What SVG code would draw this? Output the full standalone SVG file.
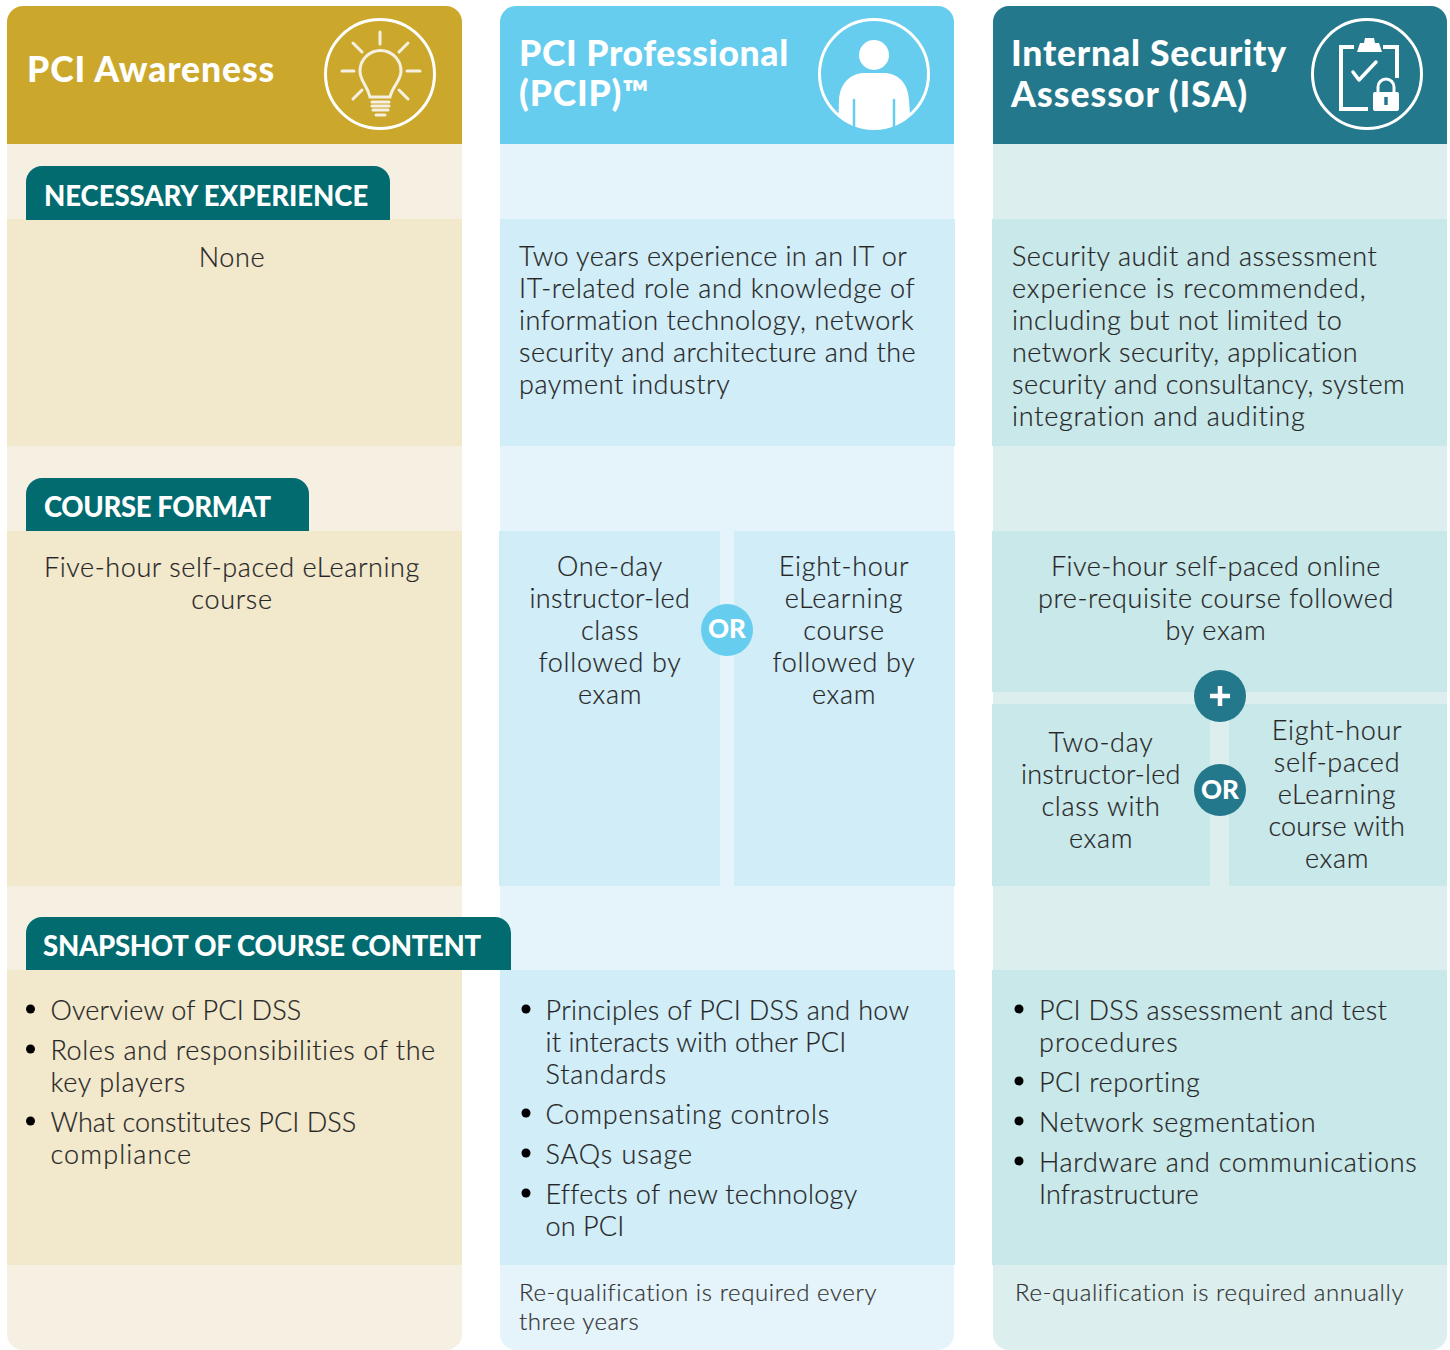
<svg xmlns="http://www.w3.org/2000/svg" width="1450" height="1350" viewBox="0 0 1450 1350">
<style>
text{font-family:"Lato","Noto Sans",sans-serif;fill:#262626;stroke:#262626;stroke-width:.2px;font-size:27px;font-weight:300;letter-spacing:.3px}
.m{text-anchor:middle;letter-spacing:.7px}
.h{font-weight:900;font-size:35.500px;fill:#fff;stroke:none;letter-spacing:.8px}
.t{font-weight:900;font-size:27.500px;fill:#fff;stroke:none;letter-spacing:-.2px}
.f{font-size:24px;fill:#333;stroke:#333;letter-spacing:.5px}
.o{font-weight:900;font-size:26px;fill:#fff;stroke:none;text-anchor:middle;letter-spacing:0}
.tab{fill:#016b70}
.ic{fill:none;stroke:#fff;stroke-width:3}
.ray{fill:none;stroke:#f6f0e2;stroke-width:3;stroke-linecap:round}
.w{fill:#fff}
</style>
<defs><clipPath id="cp"><circle cx="874" cy="74" r="54"/></clipPath></defs>
<g id="column-awareness">
<path d="M7 144V22a16 16 0 0 1 16-16H446a16 16 0 0 1 16 16V144Z" fill="#cba82c"/>
<path d="M7 144H462V1334a16 16 0 0 1-16 16H23a16 16 0 0 1-16-16Z" fill="#f6f0e2"/>
<rect x="7" y="219" width="455" height="227" fill="#f2e8cc"/>
<rect x="7" y="531" width="455" height="355" fill="#f2e8cc"/>
<rect x="7" y="970" width="455" height="295" fill="#f2e8cc"/>
<text class="h" x="27" y="82" textLength="248">PCI Awareness</text>
<g id="icon-bulb">
<circle class="ic" cx="380" cy="74" r="54.500"/>
<path class="ray" d="M380 32V44M342 71H354M407 71H420M353 43L362 52M408 43L399 52M353 99L362 90M408 99L399 90"/>
<path class="ray" d="M370 97C367 85 360 81 360 71A20.500 20.500 0 0 1 401 71C401 81 393 85 390 97Z"/>
<path class="ray" d="M372 102H389M372 106H389M373 110H388M376 115H385" stroke-width="2.500"/>
</g>
<text class="m" x="232" y="267">None</text>
<text class="m" x="232" y="577" textLength="376">Five-hour self-paced eLearning</text>
<text class="m" x="232" y="609">course</text>
<circle cx="30.500" cy="1009" r="4.500"/><text x="50.500" y="1020" textLength="251">Overview of PCI DSS</text>
<circle cx="30.500" cy="1049" r="4.500"/><text x="50.500" y="1060" textLength="385">Roles and responsibilities of the</text><text x="50.500" y="1092" textLength="135">key players</text>
<circle cx="30.500" cy="1121" r="4.500"/><text x="50.500" y="1132" textLength="306">What constitutes PCI DSS</text><text x="50.500" y="1164" textLength="141">compliance</text>
</g>
<g id="column-pcip">
<path d="M500 144V22a16 16 0 0 1 16-16H938a16 16 0 0 1 16 16V144Z" fill="#66cdef"/>
<path d="M500 144H954V1334a16 16 0 0 1-16 16H516a16 16 0 0 1-16-16Z" fill="#e4f4fa"/>
<rect x="500" y="219" width="455" height="227" fill="#d0edf8"/>
<rect x="499" y="531" width="221" height="355" fill="#d0edf8"/>
<rect x="734" y="531" width="221" height="355" fill="#d0edf8"/>
<rect x="500" y="970" width="455" height="295" fill="#d0edf8"/>
<text class="h" x="519" y="66" textLength="270">PCI Professional</text>
<text class="h" x="519" y="106">(PCIP)™</text>
<g id="icon-person">
<circle class="ic" cx="874" cy="74" r="54.500"/>
<ellipse class="w" cx="874" cy="55" rx="15" ry="15"/>
<path class="w" clip-path="url(#cp)" d="M838 130L839 100C840 82 852 73 864 73H884C897 73 908 82 909 100L911 130Z"/>
<path d="M854 100V128M894 100V128" stroke="#66cdef" stroke-width="2.500" stroke-linecap="round"/>
</g>
<text x="519" y="266" textLength="388">Two years experience in an IT or</text>
<text x="519" y="298" textLength="396">IT-related role and knowledge of</text>
<text x="519" y="330" textLength="395">information technology, network</text>
<text x="519" y="362" textLength="397">security and architecture and the</text>
<text x="519" y="394" textLength="211">payment industry</text>
<text class="m" x="610" y="576">One-day</text><text class="m" x="610" y="608" textLength="161">instructor-led</text><text class="m" x="610" y="640">class</text><text class="m" x="610" y="672">followed by</text><text class="m" x="610" y="704">exam</text>
<text class="m" x="844" y="576">Eight-hour</text><text class="m" x="844" y="608">eLearning</text><text class="m" x="844" y="640">course</text><text class="m" x="844" y="672">followed by</text><text class="m" x="844" y="704">exam</text>
<circle cx="727" cy="630" r="26" fill="#66cdef"/><text class="o" x="727" y="638">OR</text>
<circle cx="526" cy="1009" r="4.500"/><text x="545.500" y="1020" textLength="364">Principles of PCI DSS and how</text><text x="545.500" y="1052" textLength="301">it interacts with other PCI</text><text x="545.500" y="1084" textLength="121">Standards</text>
<circle cx="526" cy="1113" r="4.500"/><text x="545.500" y="1124" textLength="284">Compensating controls</text>
<circle cx="526" cy="1153" r="4.500"/><text x="545.500" y="1164" textLength="147">SAQs usage</text>
<circle cx="526" cy="1193" r="4.500"/><text x="545.500" y="1204" textLength="312">Effects of new technology</text><text x="545.500" y="1236" textLength="79">on PCI</text>
<text class="f" x="519" y="1301" textLength="358">Re-qualification is required every</text>
<text class="f" x="519" y="1330">three years</text>
</g>
<g id="column-isa">
<path d="M993 144V22a16 16 0 0 1 16-16H1431a16 16 0 0 1 16 16V144Z" fill="#24788b"/>
<path d="M993 144H1447V1334a16 16 0 0 1-16 16H1009a16 16 0 0 1-16-16Z" fill="#dcefee"/>
<rect x="992" y="219" width="455" height="227" fill="#c9e8ea"/>
<rect x="992" y="531" width="455" height="161" fill="#c9e8ea"/>
<rect x="992" y="704" width="218" height="182" fill="#c9e8ea"/>
<rect x="1229" y="704" width="218" height="182" fill="#c9e8ea"/>
<rect x="992" y="970" width="455" height="295" fill="#c9e8ea"/>
<text class="h" x="1011" y="66" textLength="276">Internal Security</text>
<text class="h" x="1011" y="107" textLength="237">Assessor (ISA)</text>
<g id="icon-clipboard">
<circle class="ic" cx="1367" cy="74" r="54.500"/>
<path d="M1354 47H1341V109H1368M1383 47H1397V78" fill="none" stroke="#fff" stroke-width="4"/>
<path class="w" d="M1357 52L1360 43H1364L1365 38H1374L1375 43H1379L1382 52Z"/>
<path d="M1353 72L1359 80L1376 62" fill="none" stroke="#fff" stroke-width="3.500" stroke-linecap="round" stroke-linejoin="round"/>
<path d="M1378 93V87A8 8 0 0 1 1394 87V93" fill="none" stroke="#fff" stroke-width="3"/>
<rect class="w" x="1373" y="92" width="26" height="19" rx="2"/>
<path d="M1386 97V105" stroke="#24788b" stroke-width="3.500"/>
</g>
<text x="1012" y="266" textLength="365">Security audit and assessment</text>
<text x="1012" y="298" textLength="354">experience is recommended,</text>
<text x="1012" y="330" textLength="330">including but not limited to</text>
<text x="1012" y="362" textLength="346">network security, application</text>
<text x="1012" y="394" textLength="393">security and consultancy, system</text>
<text x="1012" y="426" textLength="293">integration and auditing</text>
<text class="m" x="1216" y="576" textLength="330">Five-hour self-paced online</text><text class="m" x="1216" y="608" textLength="356">pre-requisite course followed</text><text class="m" x="1216" y="640">by exam</text>
<text class="m" x="1101" y="752">Two-day</text><text class="m" x="1101" y="784" textLength="160">instructor-led</text><text class="m" x="1101" y="816">class with</text><text class="m" x="1101" y="848">exam</text>
<text class="m" x="1337" y="740">Eight-hour</text><text class="m" x="1337" y="772">self-paced</text><text class="m" x="1337" y="804">eLearning</text><text class="m" x="1337" y="836" textLength="137">course with</text><text class="m" x="1337" y="868">exam</text>
<circle cx="1220" cy="696" r="26" fill="#24788b"/><path d="M1220 686V706M1210 696H1230" stroke="#fff" stroke-width="4.500"/>
<circle cx="1220" cy="790" r="26" fill="#24788b"/><text class="o" x="1220" y="799">OR</text>
<circle cx="1019" cy="1009" r="4.500"/><text x="1039" y="1020" textLength="348">PCI DSS assessment and test</text><text x="1039" y="1052" textLength="139">procedures</text>
<circle cx="1019" cy="1081" r="4.500"/><text x="1039" y="1092" textLength="161">PCI reporting</text>
<circle cx="1019" cy="1121" r="4.500"/><text x="1039" y="1132" textLength="277">Network segmentation</text>
<circle cx="1019" cy="1161" r="4.500"/><text x="1039" y="1172" textLength="378">Hardware and communications</text><text x="1039" y="1204" textLength="160">Infrastructure</text>
<text class="f" x="1015" y="1301" textLength="389">Re-qualification is required annually</text>
</g>
<g id="tab-experience">
<path class="tab" d="M26 220V182a16 16 0 0 1 16-16H374a16 16 0 0 1 16 16V220Z"/>
<text class="t" x="44" y="206" textLength="324">NECESSARY EXPERIENCE</text>
</g>
<g id="tab-format">
<path class="tab" d="M26 531V494a16 16 0 0 1 16-16H293a16 16 0 0 1 16 16V531Z"/>
<text class="t" x="44" y="517" textLength="227">COURSE FORMAT</text>
</g>
<g id="tab-content">
<path class="tab" d="M26 970V933a16 16 0 0 1 16-16H495a16 16 0 0 1 16 16V970Z"/>
<text class="t" x="43" y="956" textLength="438">SNAPSHOT OF COURSE CONTENT</text>
</g>
<g id="connectors"/>
</svg>
